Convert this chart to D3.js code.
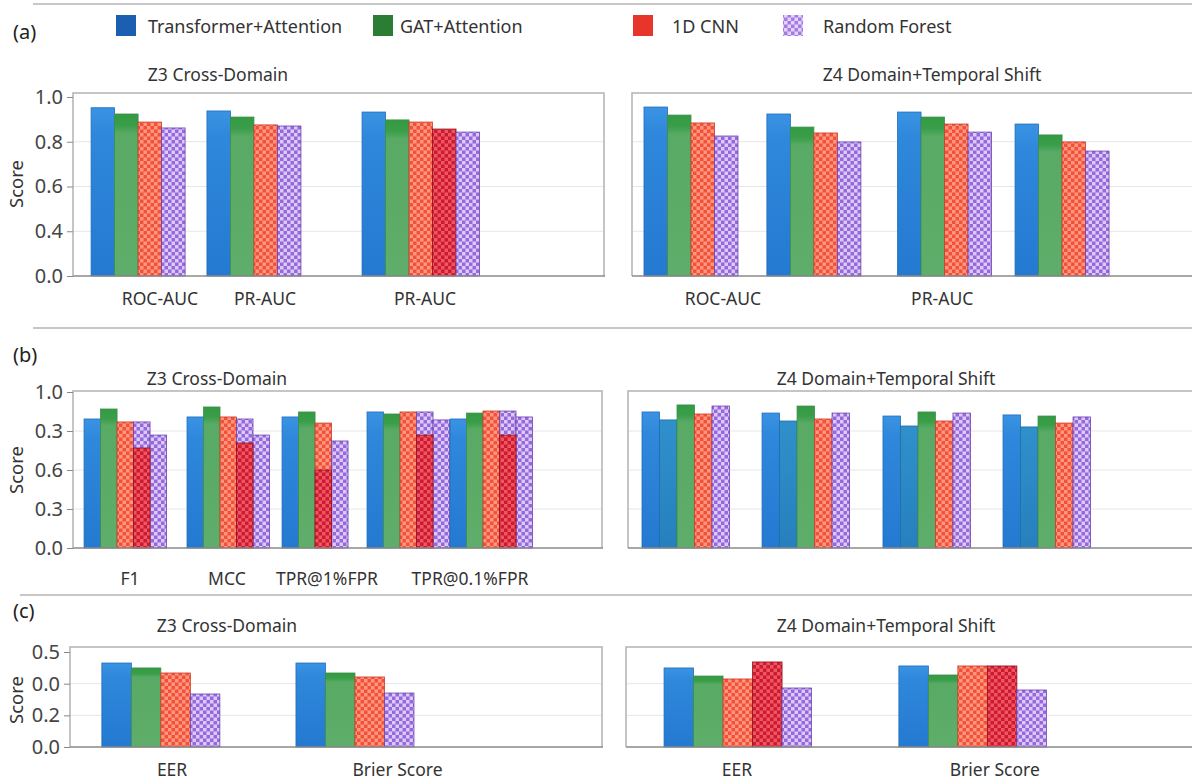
<!DOCTYPE html>
<html>
<head>
<meta charset="utf-8">
<script src="https://cdn.jsdelivr.net/npm/d3@7"></script>
<style>
  body { margin: 0; background: #fff; }
  svg { display: block; font-family: "Noto Sans", "Open Sans", sans-serif; }
</style>
</head>
<body>
<div id="chart"></div>
<script>
// ---- data (as share of each axis) ----
var legendNames = ["Transformer+Attention", "GAT+Attention", "1D CNN", "Random Forest"];
var legendKeys  = ["tr", "gat", "cnn", "rf"];

// (a)
var aTicks     = ["0.0", "0.4", "0.6", "0.8", "1.0"];
var aZ3Labels  = ["ROC-AUC", "PR-AUC", "PR-AUC"];
var aZ3Keys    = [["tr","gat","cnn","rf"], ["tr","gat","cnn","rf"], ["tr","gat","cnn","cnn2","rf"]];
var aZ3Values  = [[0.94, 0.905, 0.86, 0.827], [0.922, 0.888, 0.844, 0.838], [0.916, 0.872, 0.86, 0.821, 0.804]];
var aZ4Labels  = ["ROC-AUC", "PR-AUC"];
var aZ4Keys    = [["tr","gat","cnn","rf"], ["tr","gat","cnn","rf"], ["tr","gat","cnn","rf"], ["tr","gat","cnn","rf"]];
var aZ4Values  = [[0.944, 0.899, 0.855, 0.782], [0.905, 0.832, 0.799, 0.749], [0.916, 0.888, 0.849, 0.804], [0.849, 0.788, 0.749, 0.698]];

// (b)
var bTicks     = ["0.0", "0.3", "0.6", "0.3", "1.0"];
var bZ3Labels  = ["F1", "MCC", "TPR@1%FPR", "TPR@0.1%FPR"];
var bZ3Keys    = [["tr","gat","cnn","rf","rf"], ["tr","gat","cnn","rf","rf"], ["tr","gat","cnn","rf"], ["tr","gat","cnn","rf","rf"], ["tr","gat","cnn","rf","rf"]];
var bZ3Values  = [[0.827, 0.891, 0.808, 0.808, 0.724], [0.84, 0.904, 0.84, 0.827, 0.724], [0.84, 0.872, 0.801, 0.686], [0.872, 0.859, 0.872, 0.872, 0.821], [0.827, 0.865, 0.878, 0.878, 0.84]];
// dark-red 1D CNN part showing at the foot of some bars
var bZ3Inner   = [[null, null, null, 0.641, null], [null, null, null, 0.673, null], [null, null, 0.5, null], [null, null, null, 0.724, null], [null, null, null, 0.724, null]];
var bZ4Labels  = [];
var bZ4Keys    = [["tr","tr2","gat","cnn","rf"], ["tr","tr2","gat","cnn","rf"], ["tr","tr2","gat","cnn","rf"], ["tr","tr2","gat","cnn","rf"]];
var bZ4Values  = [[0.872, 0.821, 0.917, 0.859, 0.91], [0.865, 0.814, 0.91, 0.827, 0.865], [0.846, 0.782, 0.872, 0.814, 0.865], [0.853, 0.776, 0.846, 0.801, 0.84]];

// (c)
var cTicks     = ["0.0", "0.2", "0.0", "0.5"];
var cZ3Labels  = ["EER", "Brier Score"];
var cZ3Keys    = [["tr","gat","cnn","rf"], ["tr","gat","cnn","rf"]];
var cZ3Values  = [[0.884, 0.832, 0.779, 0.558], [0.884, 0.779, 0.737, 0.568]];
var cZ4Labels  = ["EER", "Brier Score"];
var cZ4Keys    = [["tr","gat","cnn","cnn2","rf"], ["tr","gat","cnn","cnn2","rf"]];
var cZ4Values  = [[0.832, 0.747, 0.716, 0.895, 0.621], [0.853, 0.758, 0.853, 0.853, 0.6]];

// ---- layout ----
var W = 1192, H = 780;

var rows = [
  { tag: "(a)", tagY: 39, sepY: 4, sepX: 33, titleY: 81, top: 93, one: 97, bottom: 276, labelY: 305, scoreY: 184, ticks: aTicks,
    panels: [
      { title: "Z3 Cross-Domain", titleX: 218, left: 73, right: 605, slot: 23.5, starts: [0.77, 5.7, 12.3], labelAt: [3.7, 8.17, 14.98],
        labels: aZ3Labels, keys: aZ3Keys, values: aZ3Values, inner: null },
      { title: "Z4 Domain+Temporal Shift", titleX: 932, left: 632, right: W, open: true, slot: 23.5, starts: [0.51, 5.74, 11.3, 16.3], labelAt: [3.87, 13.2],
        labels: aZ4Labels, keys: aZ4Keys, values: aZ4Values, inner: null }
    ] },
  { tag: "(b)", tagY: 362, sepY: 328, sepX: 33, titleY: 385, top: 391, one: 392, bottom: 548, labelY: 585, scoreY: 470, ticks: bTicks,
    panels: [
      { title: "Z3 Cross-Domain", titleX: 217, left: 73, right: 603, slot: 16.5, starts: [0.67, 6.91, 12.67, 17.82, 22.85], labelAt: [3.45, 9.33, 15.39, 24.06],
        labels: bZ3Labels, keys: bZ3Keys, values: bZ3Values, inner: bZ3Inner },
      { title: "Z4 Domain+Temporal Shift", titleX: 886, left: 628, right: W, open: true, slot: 17.5, starts: [0.8, 7.66, 14.57, 21.43], labelAt: [],
        labels: bZ4Labels, keys: bZ4Keys, values: bZ4Values, inner: null }
    ] },
  { tag: "(c)", tagY: 618, sepY: 595, sepX: 20, titleY: 632, top: 647, one: 652, bottom: 747, labelY: 776, scoreY: 700, ticks: cTicks,
    panels: [
      { title: "Z3 Cross-Domain", titleX: 227, left: 70, right: 603, slot: 29.5, starts: [1.08, 7.66], labelAt: [3.46, 11.1],
        labels: cZ3Labels, keys: cZ3Keys, values: cZ3Values, inner: null },
      { title: "Z4 Domain+Temporal Shift", titleX: 886, left: 626, right: W, open: true, slot: 29.5, starts: [1.29, 9.25], labelAt: [3.76, 12.5],
        labels: cZ4Labels, keys: cZ4Keys, values: cZ4Values, inner: null }
    ] }
];

var legendX = [116, 373, 633, 783],
    legendTextDx = [32, 27, 39, 40];

var fills = { tr: "url(#gTr)", tr2: "url(#gTr2)", gat: "url(#gGat)", cnn: "url(#pCnn)", cnn2: "url(#pCnn2)", rf: "url(#pRf)" };
var strokes = { tr: "#1f6dbd", tr2: "#1f6ea3", gat: "#3e8e49", cnn: "#c93b2b", cnn2: "#8c1221", rf: "#6b42b2" };
var swatch = { tr: "#1b5fb0", gat: "#2b7d34", cnn: "#e8352b", rf: "url(#pRfLeg)" };

var svg = d3.select("#chart").append("svg")
    .attr("width", W)
    .attr("height", H);

// ---- fills ----
var defs = svg.append("defs");

function grad(id, stops) {
  var g = defs.append("linearGradient").attr("id", id)
      .attr("x1", 0).attr("y1", 0).attr("x2", 0).attr("y2", 1);
  stops.forEach(s => g.append("stop").attr("offset", s[0]).attr("stop-color", s[1]));
}
grad("gTr", [[0, "#3a93e2"], [0.15, "#2f88db"], [1, "#2479d1"]]);
grad("gTr2", [[0, "#3090cc"], [1, "#2680bd"]]);
grad("gGat", [[0, "#339a43"], [0.07, "#3a9e49"], [0.12, "#58aa64"], [1, "#5fad6a"]]);

function checker(id, base, light, size) {
  var p = defs.append("pattern").attr("id", id)
      .attr("patternUnits", "userSpaceOnUse")
      .attr("width", size * 2).attr("height", size * 2);
  p.append("rect").attr("width", size * 2).attr("height", size * 2).attr("fill", base);
  p.append("rect").attr("width", size).attr("height", size).attr("fill", light);
  p.append("rect").attr("x", size).attr("y", size).attr("width", size).attr("height", size).attr("fill", light);
}
checker("pCnn", "#f2503b", "#ff977c", 3.5);
checker("pCnn2", "#cf1a2d", "#ec5665", 3.5);
checker("pRf", "#9767de", "#dccaf6", 3.5);
checker("pRfLeg", "#a57ae3", "#e2d3f8", 3.5);

// ---- legend ----
var legend = svg.append("g");
legendKeys.forEach((k, i) => {
  legend.append("rect")
      .attr("x", legendX[i]).attr("y", 15)
      .attr("width", 20).attr("height", 21)
      .attr("fill", swatch[k]);
  legend.append("text")
      .attr("x", legendX[i] + legendTextDx[i])
      .attr("y", 33)
      .attr("font-size", "18px")
      .attr("fill", "#333")
      .text(legendNames[i]);
});

// ---- rows ----
rows.forEach(row => {
  svg.append("line")
      .attr("x1", row.sepX).attr("x2", W)
      .attr("y1", row.sepY).attr("y2", row.sepY)
      .attr("stroke", "#b5b5b5")
      .attr("stroke-width", 1.5);

  svg.append("text")
      .attr("x", 13).attr("y", row.tagY)
      .attr("font-size", "20px")
      .attr("fill", "#222")
      .text(row.tag);

  var y = d3.scaleLinear()
      .domain([0, 1])
      .range([row.bottom, row.one]);

  var tickVals = row.ticks.map((_, i) => i / (row.ticks.length - 1));

  svg.append("text")
      .attr("transform", `translate(23, ${row.scoreY}) rotate(-90)`)
      .attr("text-anchor", "middle")
      .attr("font-size", "18.5px")
      .attr("fill", "#333")
      .text("Score");

  row.panels.forEach((p, pi) => {
    var x = d3.scaleLinear()
        .domain([0, (p.right - p.left) / p.slot])
        .range([p.left, p.right]);
    var bw = x(1) - x(0);

    var g = svg.append("g");

    // grid
    g.selectAll(".grid")
      .data(tickVals.slice(1, -1))
      .join("line")
        .attr("x1", p.left).attr("x2", p.right - (p.open ? 0 : 1))
        .attr("y1", d => y(d)).attr("y2", d => y(d))
        .attr("stroke", "#e6e6e6");

    // frame
    g.append("path")
        .attr("d", p.open
          ? `M${p.right},${row.top}H${p.left}V${row.bottom}`
          : `M${p.left},${row.bottom}V${row.top}H${p.right - 1}V${row.bottom}`)
        .attr("fill", "none")
        .attr("stroke", "#b3b3b3")
        .attr("stroke-width", 1.5);

    // bars
    p.keys.forEach((keys, gi) => {
      var bars = keys.map((k, i) => ({ k: k, v: p.values[gi][i], s: p.starts[gi] + i,
                                       inner: p.inner ? p.inner[gi][i] : null }));
      g.append("g").selectAll("rect")
        .data(bars)
        .join("rect")
          .attr("x", d => x(d.s))
          .attr("y", d => y(d.v))
          .attr("width", bw)
          .attr("height", d => y(0) - y(d.v))
          .attr("fill", d => fills[d.k])
          .attr("stroke", d => strokes[d.k])
          .attr("stroke-width", 0.8);
      g.append("g").selectAll("rect")
        .data(bars.filter(d => d.inner != null))
        .join("rect")
          .attr("x", d => x(d.s))
          .attr("y", d => y(d.inner))
          .attr("width", bw)
          .attr("height", d => y(0) - y(d.inner))
          .attr("fill", fills.cnn2)
          .attr("stroke", strokes.cnn2)
          .attr("stroke-width", 0.8);
    });

    // bottom axis line
    g.append("line")
        .attr("x1", p.left).attr("x2", p.right)
        .attr("y1", row.bottom).attr("y2", row.bottom)
        .attr("stroke", "#8a8a8a")
        .attr("stroke-width", 1.5);

    // y axis on the left panel only
    if (pi == 0) {
      var yAxis = d3.axisLeft(y)
          .tickValues(tickVals)
          .tickSize(6)
          .tickPadding(4)
          .tickFormat((d, i) => row.ticks[i]);
      g.append("g")
          .attr("transform", `translate(${p.left},0)`)
          .call(yAxis)
          .call(a => a.select(".domain").remove())
          .call(a => a.selectAll("line").attr("stroke", "#888"))
          .call(a => a.selectAll("text")
              .attr("font-family", "Noto Sans, Open Sans, sans-serif")
              .attr("font-size", "20px")
              .attr("fill", "#444"));
    }

    // x labels
    g.selectAll(".xl")
      .data(p.labels)
      .join("text")
        .attr("x", (d, i) => x(p.labelAt[i]))
        .attr("y", row.labelY)
        .attr("text-anchor", "middle")
        .attr("font-size", "17.5px")
        .attr("fill", "#333")
        .text(d => d);

    g.append("text")
        .attr("x", p.titleX)
        .attr("y", row.titleY)
        .attr("text-anchor", "middle")
        .attr("font-size", "17.5px")
        .attr("fill", "#333")
        .text(p.title);
  });
});
</script>
</body>
</html>
